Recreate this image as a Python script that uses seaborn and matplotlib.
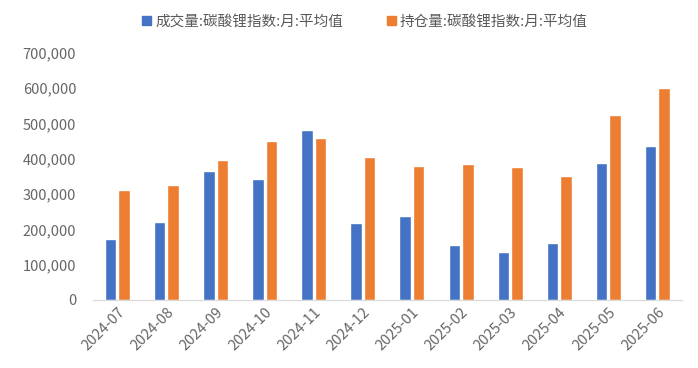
import pandas as pd
import seaborn as sns
import matplotlib.pyplot as plt
from matplotlib.ticker import FuncFormatter, FixedLocator

# Data
months = ["2024-07", "2024-08", "2024-09", "2024-10", "2024-11", "2024-12",
          "2025-01", "2025-02", "2025-03", "2025-04", "2025-05", "2025-06"]
volume = [172000, 222000, 365000, 343000, 483000, 217000,
          239000, 156000, 137000, 161000, 388000, 436000]
open_interest = [312000, 326000, 397000, 450000, 458000, 405000,
                 379000, 386000, 377000, 350000, 524000, 600000]
series_names = ["成交量:碳酸锂指数:月:平均值", "持仓量:碳酸锂指数:月:平均值"]
colors = ["#4472C4", "#ED7D31"]

df = pd.DataFrame({"month": months, series_names[0]: volume, series_names[1]: open_interest})
long_df = df.melt(id_vars="month", var_name="series", value_name="value")

sns.set_style("white")
plt.rcParams["font.family"] = ["Noto Sans CJK SC", "DejaVu Sans"]

fig = plt.figure(figsize=(6.98, 3.68), dpi=100)
ax = fig.add_axes([0.133, 0.185, 0.844, 0.671])

sns.barplot(data=long_df, x="month", y="value", hue="series", palette=colors,
            width=0.55, gap=0.15, ax=ax, saturation=1, legend=True)

ax.set_ylim(0, 700000)
ax.set_yticks(range(0, 700001, 100000))
ax.yaxis.set_major_formatter(FuncFormatter(lambda v, p: f"{int(v):,}"))
ax.set_xlim(-0.5, len(months) - 0.5)
ax.set_xlabel("")
ax.set_ylabel("")

for side in ["left", "right", "top"]:
    ax.spines[side].set_visible(False)
ax.spines["bottom"].set_color("#d9d9d9")

ax.tick_params(axis="y", length=0, labelsize=10.5, labelcolor="#666666", pad=12)
ax.tick_params(axis="x", which="major", length=0, labelsize=10.5, labelcolor="#666666")
ax.xaxis.set_minor_locator(FixedLocator([i - 0.5 for i in range(len(months) + 1)]))
ax.tick_params(axis="x", which="minor", length=5, color="#d9d9d9")
plt.setp(ax.get_xticklabels(), rotation=45, ha="right", rotation_mode="anchor")

ax.legend_.remove()
handles = [plt.Rectangle((0, 0), 1, 1, color=c) for c in colors]
fig.legend(handles, series_names, loc="upper center", bbox_to_anchor=(0.523, 0.995),
           ncol=2, frameon=False, fontsize=10.5, handlelength=0.6, handleheight=0.6,
           handletextpad=0.3, columnspacing=3.0, labelcolor="#595959")

plt.savefig("out.png", dpi=100)
plt.close()
